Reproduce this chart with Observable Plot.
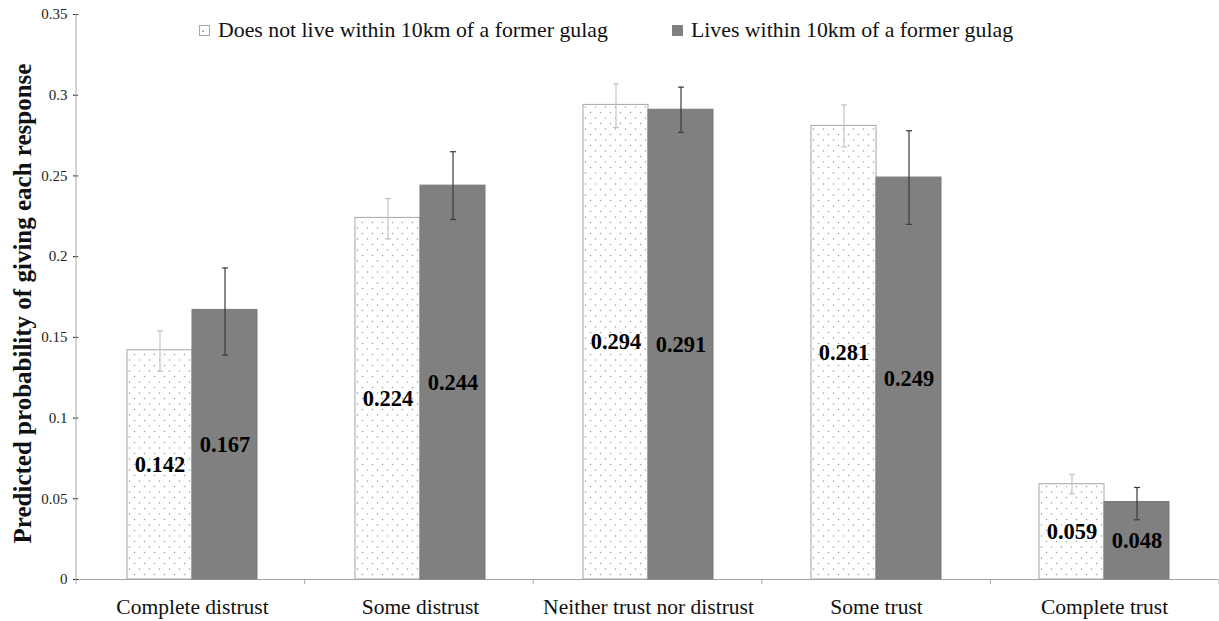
<!DOCTYPE html>
<html>
<head>
<meta charset="utf-8">
<script src="https://cdn.jsdelivr.net/npm/d3@7"></script>
<script src="https://cdn.jsdelivr.net/npm/@observablehq/plot@0.6"></script>
<style>
  html, body { margin: 0; padding: 0; background: #fff; }
  #chart { position: relative; width: 1219px; height: 621px; font-family: "Liberation Serif", "Times New Roman", serif; }
  #chart svg { display: block; }
  g[aria-label="fx-axis tick label"] { font-size: 21.5px; fill: #111; }
  g[aria-label="y-axis tick"] { stroke: #999; }
  .legend-item { position: absolute; top: 18px; display: flex; align-items: center; font-size: 21.8px; color: #111; white-space: nowrap; }
  .swatch { width: 11px; height: 11px; margin-right: 8px; box-sizing: border-box; }
  .swatch.light { border: 1px solid #a6a6a6; background: #fff radial-gradient(circle at 35% 60%, #999 0.8px, transparent 1.2px); }
  .swatch.dark { background: #808080; }
</style>
</head>
<body>
<div id="chart">
  <div class="legend-item" style="left:199px"><span class="swatch light"></span><span>Does not live within 10km of a former gulag</span></div>
  <div class="legend-item" style="left:672px"><span class="swatch dark"></span><span>Lives within 10km of a former gulag</span></div>
</div>
<script>
// Response categories along the x axis
const categories = ["Complete distrust", "Some distrust", "Neither trust nor distrust", "Some trust", "Complete trust"];
// The two groups compared within each category
const groups = ["Does not live within 10km of a former gulag", "Lives within 10km of a former gulag"];

// Predicted probabilities and their confidence intervals
const farValues = [0.142, 0.224, 0.294, 0.281, 0.059];
const farLow    = [0.129, 0.211, 0.280, 0.268, 0.053];
const farHigh   = [0.154, 0.236, 0.307, 0.294, 0.065];
const nearValues = [0.167, 0.244, 0.291, 0.249, 0.048];
const nearLow    = [0.139, 0.223, 0.277, 0.220, 0.037];
const nearHigh   = [0.193, 0.265, 0.305, 0.278, 0.057];

const yTicks = [0, 0.05, 0.1, 0.15, 0.2, 0.25, 0.3, 0.35];
const yTitle = "Predicted probability of giving each response";

const rows = categories.flatMap((cat, i) => [
  {cat, group: groups[0], value: farValues[i], low: farLow[i], high: farHigh[i]},
  {cat, group: groups[1], value: nearValues[i], low: nearLow[i], high: nearHigh[i]}
]);
const far = rows.filter(d => d.group === groups[0]);
const near = rows.filter(d => d.group === groups[1]);

// Short horizontal stroke used as an error-bar cap
const cap = {
  draw(context, size) {
    const h = Math.sqrt(size / Math.PI);
    context.moveTo(-h, 0);
    context.lineTo(h, 0);
  }
};

const plot = Plot.plot({
  width: 1219,
  height: 621,
  marginTop: 14,
  marginBottom: 42,
  marginLeft: 76,
  marginRight: 0,
  style: {fontFamily: "'Liberation Serif', 'Times New Roman', serif", fontSize: "15px", color: "#222", background: "transparent", overflow: "visible"},
  fx: {domain: categories, padding: 0, label: null, axis: "bottom", tickSize: 0, tickPadding: 19},
  x: {domain: groups, axis: null, paddingInner: 0, paddingOuter: 0.75},
  y: {
    domain: [0, 0.35],
    ticks: yTicks,
    tickFormat: d => String(d),
    tickSize: 5,
    tickPadding: 6,
    label: null
  },
  marks: [
    Plot.ruleY([0], {stroke: "#a6a6a6"}),
    Plot.barY(far, {fx: "cat", x: "group", y: "value", fill: "url(#dots)", stroke: "#a6a6a6", strokeWidth: 1}),
    Plot.barY(near, {fx: "cat", x: "group", y: "value", fill: "#808080", stroke: "#7a7a7a", strokeWidth: 1}),
    Plot.ruleX(far, {fx: "cat", x: "group", y1: "low", y2: "high", stroke: "#c4c4c4", strokeWidth: 1.2}),
    Plot.dot(far, {fx: "cat", x: "group", y: "low", symbol: cap, r: 3, stroke: "#c4c4c4", strokeWidth: 1.2}),
    Plot.dot(far, {fx: "cat", x: "group", y: "high", symbol: cap, r: 3, stroke: "#c4c4c4", strokeWidth: 1.2}),
    Plot.ruleX(near, {fx: "cat", x: "group", y1: "low", y2: "high", stroke: "#3a3a3a", strokeWidth: 1.2}),
    Plot.dot(near, {fx: "cat", x: "group", y: "low", symbol: cap, r: 3, stroke: "#3a3a3a", strokeWidth: 1.2}),
    Plot.dot(near, {fx: "cat", x: "group", y: "high", symbol: cap, r: 3, stroke: "#3a3a3a", strokeWidth: 1.2}),
    Plot.text(rows, {
      fx: "cat", x: "group", y: d => d.value / 2,
      text: d => d.value.toFixed(3),
      fontSize: 22.5, fontWeight: "bold", fill: "#000"
    })
  ]
});

document.getElementById("chart").prepend(plot);

// Dotted fill for the lighter bars
const svg = d3.select(plot);
svg.insert("defs", ":first-child").html(`
  <pattern id="dots" width="10" height="11" patternUnits="userSpaceOnUse">
    <rect width="10" height="11" fill="#fff"/>
    <circle cx="2.5" cy="2.5" r="0.75" fill="#9a9a9a"/>
    <circle cx="7.5" cy="8" r="0.75" fill="#9a9a9a"/>
  </pattern>`);

// Vertical axis line and tick marks between categories, placed with the plot's own scales
const fxScale = plot.scale("fx");
const yScale = plot.scale("y");
const band = d3.scaleBand().domain(fxScale.domain).range(fxScale.range).padding(0);
const yLin = d3.scaleLinear(yScale.domain, yScale.range);
const bounds = categories.map(c => band(c)).concat([band(categories[categories.length - 1]) + band.bandwidth()]);
const y0 = yLin(0);
const yTop = yLin(0.35);
const g = svg.append("g").attr("stroke", "#a6a6a6").attr("stroke-width", 1);
g.append("line").attr("x1", bounds[0]).attr("x2", bounds[0]).attr("y1", yTop).attr("y2", y0);
g.selectAll("line.tick").data(bounds).join("line").attr("class", "tick")
  .attr("x1", d => d).attr("x2", d => d).attr("y1", y0).attr("y2", y0 + 5);

// Rotated y-axis title, centred along the axis
svg.append("text")
  .attr("transform", `translate(31,${(yTop + y0) / 2 + 7}) rotate(-90)`)
  .attr("text-anchor", "middle")
  .attr("font-family", "'Liberation Serif', 'Times New Roman', serif")
  .attr("font-size", 25)
  .attr("font-weight", "bold")
  .attr("fill", "#111")
  .text(yTitle);
</script>
</body>
</html>
